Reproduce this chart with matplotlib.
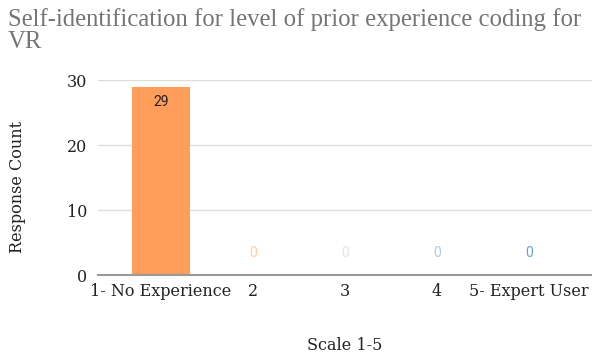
import matplotlib.pyplot as plt

categories = ["1- No Experience", "2", "3", "4", "5- Expert User"]
counts = [29, 0, 0, 0, 0]
bar_color = "#FF9E5A"
label_colors = ["#222222", "#FFCBA4", "#E3E3E3", "#AECBF0", "#6A9FE0"]
yticks = [0, 10, 20, 30]
title_lines = ["Self-identification for level of prior experience coding for", "VR"]

plt.rcParams["font.family"] = ["DejaVu Serif"]

fig = plt.figure(figsize=(5.92, 3.58), dpi=100)
ax = fig.add_axes([98 / 592, 1 - 275 / 358, 1 - 98 / 592, 195 / 358])

x = list(range(len(categories)))
ax.bar(x, counts, width=0.64, color=bar_color, zorder=2)

# value labels: inside the bar when there is room, above it otherwise
for xi, v, c in zip(x, counts, label_colors):
    if v > 3:
        ax.annotate(str(v), (xi, v), xytext=(0, -11), textcoords="offset points",
                    ha="center", va="center", fontsize=10, color=c, family="Roboto")
    else:
        ax.annotate(str(v), (xi, v), xytext=(0, 16), textcoords="offset points",
                    ha="center", va="center", fontsize=10, color=c, family="Roboto")

ax.set_xlim(-0.685, 4.685)
ax.set_ylim(0, 30)
ax.set_yticks(yticks)
ax.set_xticks(x)
ax.set_xticklabels(categories)
ax.tick_params(axis="both", length=0, labelsize=11.5, colors="#222222")
ax.tick_params(axis="y", pad=8)
ax.tick_params(axis="x", pad=6)
ax.grid(axis="y", color="#DDDDDD", linewidth=1, zorder=0)

for side in ["top", "right", "left"]:
    ax.spines[side].set_visible(False)
ax.spines["bottom"].set_color("#999999")
ax.spines["bottom"].set_linewidth(1.5)
ax.spines["bottom"].set_zorder(3)

fig.text(18 / 592, 1 - 187 / 358, "Response Count", rotation=90,
         ha="center", va="center", fontsize=11.5, color="#222222")
fig.text(345 / 592, 1 - 345 / 358, "Scale 1-5",
         ha="center", va="center", fontsize=11.5, color="#222222")

# two-line title, each line placed on its own baseline
for i, line in enumerate(title_lines):
    fig.text(8 / 592, 1 - (26 + 22 * i) / 358, line, ha="left", va="baseline",
             fontsize=17.8, color="#757575", family="Liberation Serif")

fig.savefig("out.png", dpi=100)
